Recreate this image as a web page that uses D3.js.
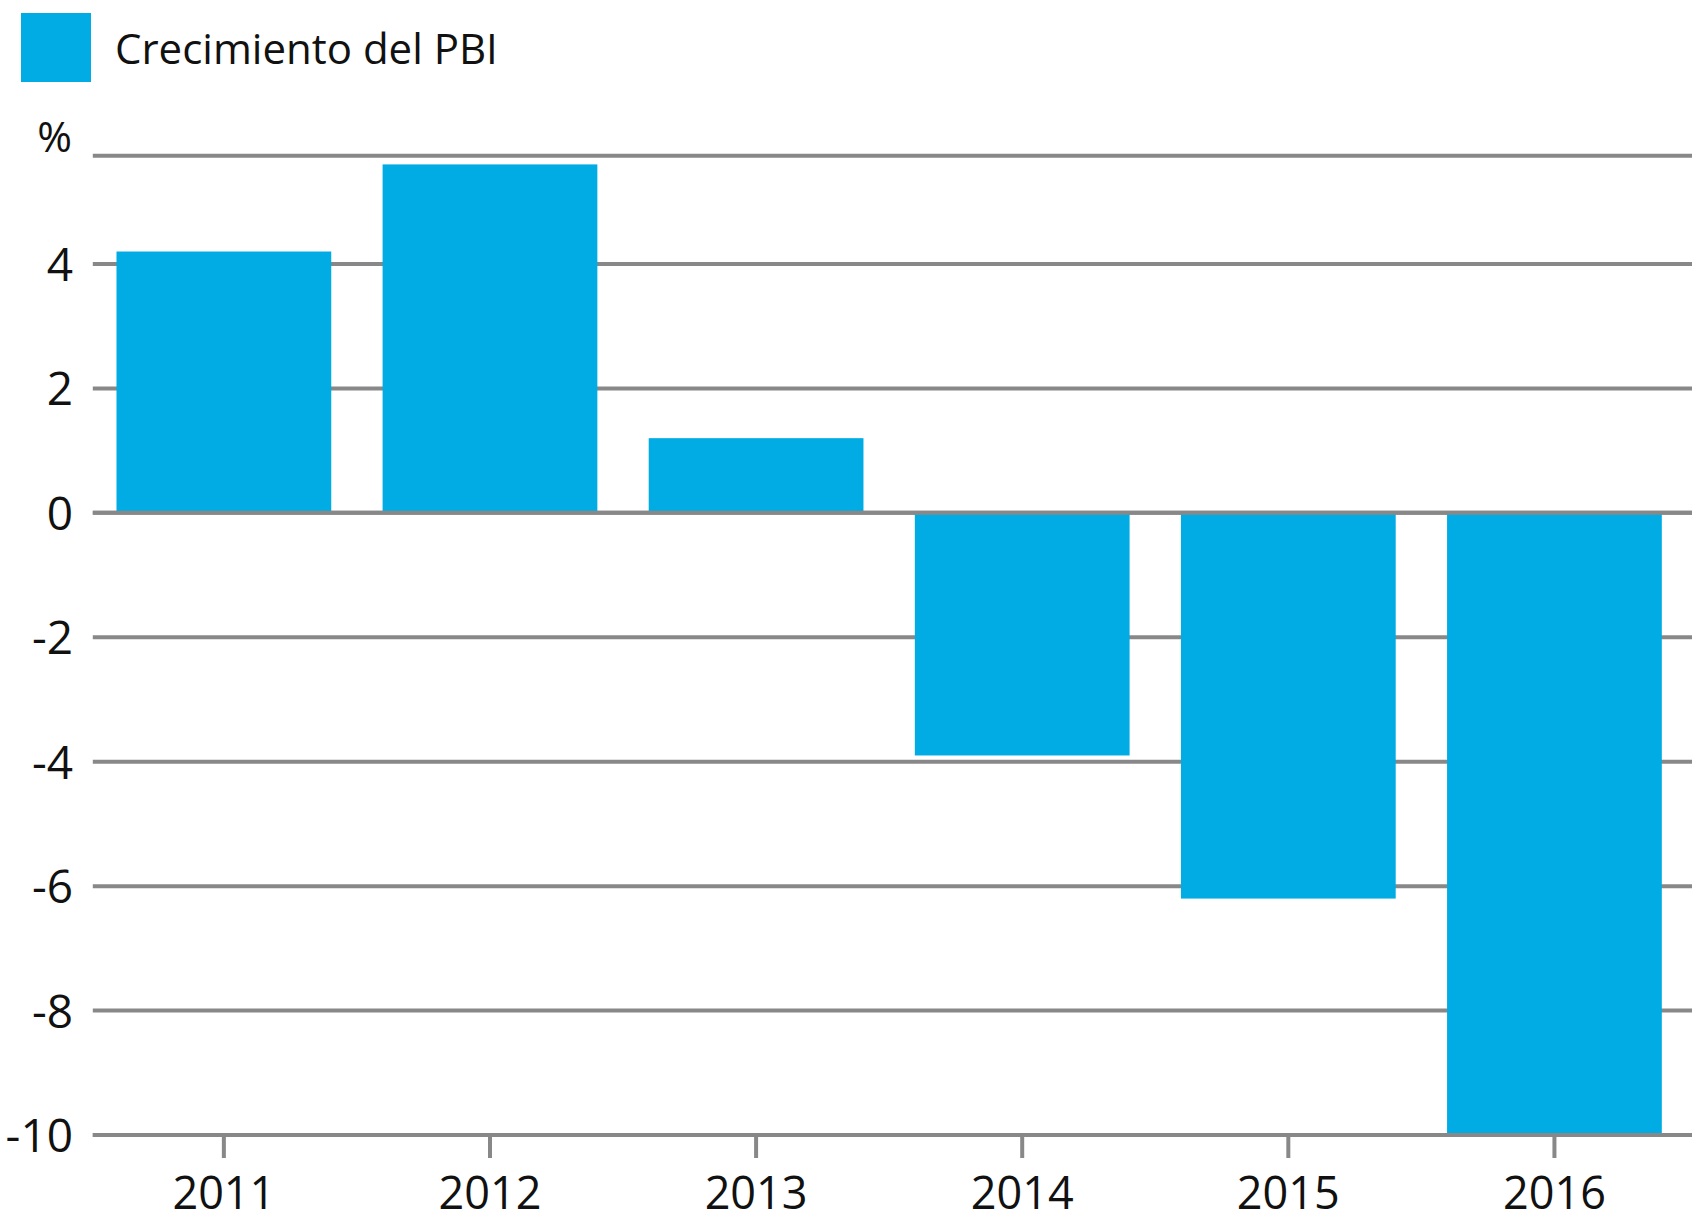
<!DOCTYPE html>
<html>
<head>
<meta charset="utf-8">
<script src="https://cdn.jsdelivr.net/npm/d3@7"></script>
<style>
  body { margin: 0; background: #fff; }
  text { font-family: "Open Sans", "Noto Sans", sans-serif; fill: #111; }
</style>
</head>
<body>
<div id="chart"></div>
<script>
// data
const years = ["2011", "2012", "2013", "2014", "2015", "2016"];
const growth = [4.2, 5.6, 1.2, -3.9, -6.2, -10];
const yTicks = [4, 2, 0, -2, -4, -6, -8, -10];
const seriesName = "Crecimiento del PBI";

const W = 1692, H = 1224;
const barColor = "#00ace3";
const gridColor = "#888888";

const svg = d3.select("#chart").append("svg")
  .attr("width", W)
  .attr("height", H);

// scales
const y = d3.scaleLinear()
  .domain([-10, 5.74])
  .range([1135, 155.7]);

const x = d3.scaleBand()
  .domain(years)
  .range([92.8, 1685.5])
  .paddingInner(0.193)
  .paddingOuter(0.089);

// gridlines (incl. unlabelled top line)
svg.append("g")
  .selectAll("line")
  .data(yTicks.concat([y.domain()[1]]))
  .join("line")
  .attr("x1", 92.8)
  .attr("x2", W)
  .attr("y1", d => y(d))
  .attr("y2", d => y(d))
  .attr("stroke", gridColor)
  .attr("stroke-width", 4);

// bars
svg.append("g")
  .selectAll("rect")
  .data(years.map((c, i) => ({ year: c, value: growth[i] })))
  .join("rect")
  .attr("x", d => x(d.year))
  .attr("width", x.bandwidth())
  .attr("y", d => y(Math.max(0, d.value)))
  .attr("height", d => Math.abs(y(d.value) - y(0)))
  .attr("fill", barColor);

// zero line and bottom line on top of bars
svg.append("g")
  .selectAll("line")
  .data([0, -10])
  .join("line")
  .attr("x1", 92.8)
  .attr("x2", W)
  .attr("y1", d => y(d))
  .attr("y2", d => y(d))
  .attr("stroke", gridColor)
  .attr("stroke-width", 4);

// y axis labels
const yAxis = d3.axisLeft(y)
  .tickValues(yTicks)
  .tickSize(0)
  .tickPadding(0)
  .tickFormat(d3.format("d"));
svg.append("g")
  .attr("transform", "translate(73,0)")
  .call(yAxis)
  .call(g => g.select(".domain").remove())
  .call(g => g.selectAll("text")
    .attr("font-size", 46)
    .attr("fill", "#111")
    .attr("dy", "0.36em")
    .text(d => d < 0 ? "-" + Math.abs(d) : d));

// x axis ticks and labels
const xAxis = d3.axisBottom(x)
  .tickSize(23)
  .tickPadding(19);
svg.append("g")
  .attr("transform", `translate(0,${y(-10)})`)
  .call(xAxis)
  .call(g => g.select(".domain").remove())
  .call(g => g.selectAll(".tick line").attr("stroke", gridColor).attr("stroke-width", 4))
  .call(g => g.selectAll("text").attr("font-size", 45).attr("fill", "#111"));

// unit label
svg.append("text")
  .attr("x", 72)
  .attr("y", 152)
  .attr("text-anchor", "end")
  .attr("font-size", 42)
  .text("%");

// legend
const legend = svg.append("g");
legend.append("rect")
  .attr("x", 21)
  .attr("y", 13)
  .attr("width", 70)
  .attr("height", 69)
  .attr("fill", barColor);
legend.append("text")
  .attr("x", 115)
  .attr("y", 64)
  .attr("font-size", 42)
  .text(seriesName);
</script>
</body>
</html>
